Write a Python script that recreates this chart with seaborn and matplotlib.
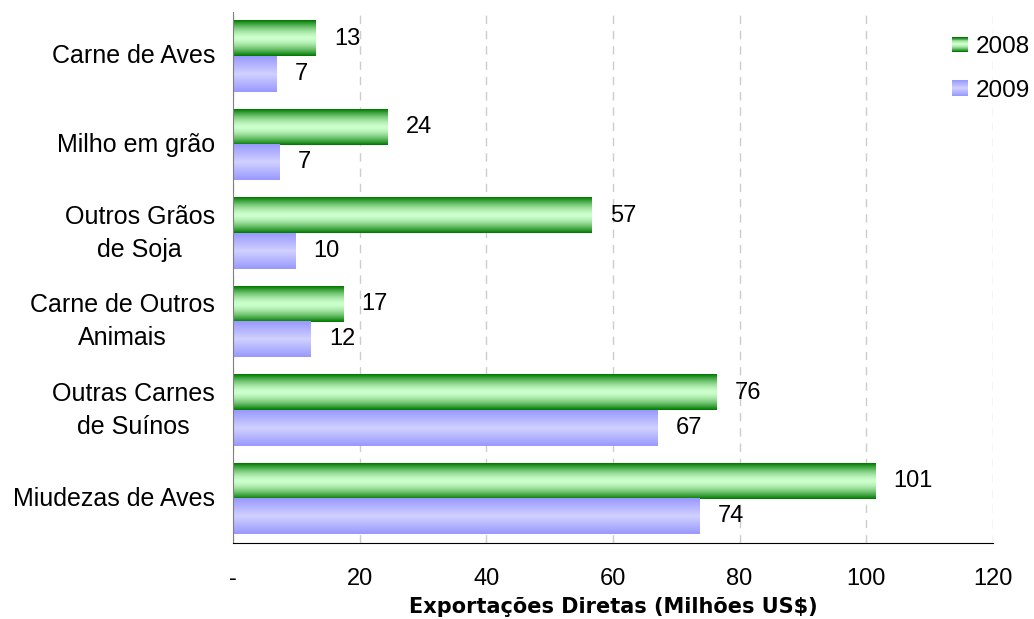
import numpy as np
import pandas as pd
import matplotlib.pyplot as plt
from matplotlib.patches import Patch, Rectangle
from matplotlib.legend_handler import HandlerBase
import seaborn as sns

sns.set_style('white', {'text.color': 'black', 'axes.labelcolor': 'black',
                        'xtick.color': 'black', 'ytick.color': 'black'})
plt.rcParams['font.family'] = ['Liberation Sans', 'DejaVu Sans']

# data
produtos = ['Carne de Aves', 'Milho em grão', 'Outros Grãos\nde Soja',
            'Carne de Outros\nAnimais', 'Outras Carnes\nde Suínos', 'Miudezas de Aves']
v2008 = [13.1, 24.4, 56.6, 17.4, 76.3, 101.4]
v2009 = [6.9, 7.3, 9.8, 12.3, 67.0, 73.7]
anos = ['2008', '2009']

df = pd.DataFrame({
    'produto': produtos * 2,
    'ano': ['2008'] * len(produtos) + ['2009'] * len(produtos),
    'valor': v2008 + v2009,
})

fig = plt.figure(figsize=(10.34, 6.19), dpi=100)
ax = fig.add_axes([0.2253, 0.1228, 0.7350, 0.8578])

sns.barplot(data=df, y='produto', x='valor', hue='ano', hue_order=anos,
            order=produtos, orient='h', width=0.8, ax=ax, legend=False,
            palette=['#33aa33', '#aaaaff'])


def gradient(edge, center, n=64, power=1.0):
    edge = np.array(edge) / 255
    center = np.array(center) / 255
    t = np.abs(np.linspace(-1, 1, n))[:, None] ** power
    return center * (1 - t) + edge * t


grads = {'2008': gradient((0, 122, 0), (204, 255, 204), power=1.6),
         '2009': gradient((153, 153, 255), (208, 208, 255))}

bars = [p for p in ax.patches if p.get_height() > 0]
n = len(produtos)
for i, p in enumerate(bars):
    ano = anos[i // n]
    x, y, w, h = p.get_x(), p.get_y(), p.get_width(), p.get_height()
    p.set_facecolor('none')
    p.set_edgecolor('none')
    ax.imshow(grads[ano][:, None, :], extent=[x, x + w, y + h, y], aspect='auto',
              interpolation='bilinear', zorder=2)
    ax.text(x + w + 2.9, y + h / 2, f'{round(w):d}', va='center', ha='left',
            fontsize=17, zorder=3)

ax.set_xlim(0, 120)
ax.set_ylim(n - 0.5, -0.5)
ax.set_xticks(range(0, 121, 20))
ax.set_xticklabels(['-', '20', '40', '60', '80', '100', '120'], fontsize=17)
ax.tick_params(axis='x', length=6, width=1, direction='out', pad=12, color='black')
ax.tick_params(axis='y', which='major', length=0, pad=13, labelsize=18)
ax.set_yticks(np.arange(-0.5, n, 1), minor=True)
ax.tick_params(axis='y', which='minor', length=6, color='#808080', direction='out')
for lbl in ax.get_yticklabels():
    lbl.set_multialignment('center')
    lbl.set_linespacing(1.45)
    lbl.set_verticalalignment('center')

ax.grid(axis='x', linestyle=(0, (6, 5)), color='#cccccc', linewidth=1)
ax.set_axisbelow(True)
for s in ['top', 'right']:
    ax.spines[s].set_visible(False)
ax.spines['left'].set_color('#808080')
ax.spines['bottom'].set_color('black')

ax.set_ylabel('')
ax.set_xlabel('Exportações Diretas (Milhões US$)', fontsize=15, fontweight='bold',
              family='DejaVu Sans', labelpad=5)


class GradHandler(HandlerBase):
    def __init__(self, grad):
        super().__init__()
        self.grad = grad

    def create_artists(self, legend, orig_handle, xdescent, ydescent,
                       width, height, fontsize, trans):
        k = len(self.grad)
        return [Rectangle((-xdescent, -ydescent + height * j / k), width,
                          height / k + 0.01, facecolor=self.grad[j],
                          edgecolor='none', transform=trans)
                for j in range(k)]


handles = [Patch(label=a) for a in anos]
fig.legend(handles=handles, loc='upper left', bbox_to_anchor=(0.921, 0.942),
           frameon=False, fontsize=17.5, handlelength=0.66, handleheight=0.6,
           handletextpad=0.3, labelspacing=0.9, borderpad=0, borderaxespad=0,
           handler_map={handles[0]: GradHandler(gradient((0, 122, 0), (204, 255, 204), 16, 1.6)),
                        handles[1]: GradHandler(gradient((153, 153, 255), (208, 208, 255), 16))})

fig.savefig('out.png', dpi=100)
